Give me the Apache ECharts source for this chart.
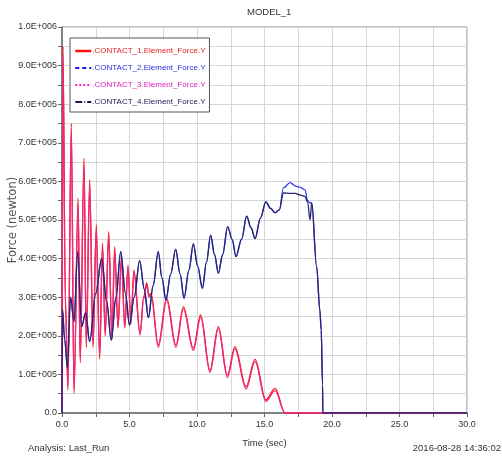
<!DOCTYPE html>
<html>
<head>
<meta charset="utf-8">
<script src="https://cdn.jsdelivr.net/npm/echarts@6/dist/echarts.min.js"></script>
<style>
  html, body { margin: 0; padding: 0; background: #fff; }
  #chart { width: 502px; height: 461px; }
</style>
</head>
<body>
<div id="chart"></div>
<script>
// Contact forces (units of 1E+005 newton) sampled at turning points of the response
const contactATime = [0, 0.07, 0.25, 0.44, 0.69, 0.89, 1.19, 1.35, 1.63, 1.8, 2.05, 2.3, 2.54, 2.79, 3.0, 3.2, 3.46, 3.7, 3.9, 4.15, 4.4, 4.65, 4.89, 5.1, 5.33, 5.78, 6.05, 6.27, 6.45, 6.6, 7.13, 7.75, 8.44, 8.99, 9.73, 10.27, 10.96, 11.58, 12.25, 12.81, 13.63, 14.3, 15.1, 15.78, 16.52, 30];
const contact1Force = [0.2, 9.5, 3.0, 0.6, 7.5, 0.5, 5.57, 1.3, 6.6, 1.7, 6.04, 1.7, 4.87, 1.4, 4.4, 2.0, 4.7, 1.9, 4.31, 2.2, 4.05, 2.2, 3.83, 2.3, 3.7, 2.07, 3.0, 3.37, 3.05, 3.1, 1.76, 2.98, 1.76, 2.75, 1.68, 2.54, 1.11, 2.24, 0.98, 1.72, 0.68, 1.39, 0.34, 0.64, 0, 0];
const contact3Force = [0.1, 9.3, 2.8, 0.7, 7.3, 0.6, 5.4, 1.4, 6.4, 1.8, 5.9, 1.8, 4.75, 1.5, 4.3, 2.05, 4.6, 1.95, 4.2, 2.25, 3.95, 2.25, 3.75, 2.35, 3.62, 2.02, 2.95, 3.3, 3.0, 3.04, 1.7, 2.92, 1.7, 2.69, 1.62, 2.48, 1.05, 2.18, 0.92, 1.66, 0.62, 1.33, 0.3, 0.58, 0, 0];

const contactBTime = [0, 0.03, 0.2, 0.4, 0.63, 0.89, 1.16, 1.46, 1.75, 2.05, 2.5, 2.94, 3.3, 3.65, 4.0, 4.35, 4.7, 5.0, 5.35, 5.75, 6.1, 6.4, 6.75, 7.13, 7.4, 7.7, 8.05, 8.42, 8.75, 9.04, 9.4, 9.73, 10.05, 10.4, 10.7, 11.01, 11.3, 11.58, 11.9, 12.27, 12.6, 12.89, 13.3, 13.68, 14.0, 14.3, 14.7, 15.1, 15.45, 15.78, 16.1, 16.4, 16.9, 17.3, 17.6, 18.0, 18.2, 18.37, 18.5, 18.86, 19.1, 19.2, 19.3, 19.32, 30];
const contact2Force = [0, 2.7, 1.9, 1.17, 3.0, 2.37, 4.18, 2.24, 2.6, 1.85, 3.1, 4.0, 2.9, 1.89, 3.0, 4.18, 3.1, 2.28, 3.0, 3.95, 3.2, 2.47, 3.3, 4.18, 3.5, 2.93, 3.6, 4.24, 3.6, 2.97, 3.7, 4.38, 3.8, 3.23, 3.9, 4.61, 4.1, 3.62, 4.1, 4.83, 4.5, 4.05, 4.5, 5.1, 4.8, 4.52, 5.05, 5.47, 5.3, 5.19, 5.26, 5.83, 5.97, 5.88, 5.85, 5.78, 5.5, 5.44, 5.44, 3.8, 2.67, 2.15, 0.73, 0, 0];
const contact4Force = [0, 2.7, 1.9, 1.17, 3.0, 2.37, 4.18, 2.24, 2.6, 1.85, 3.1, 4.0, 2.9, 1.89, 3.0, 4.18, 3.1, 2.28, 3.0, 3.95, 3.2, 2.47, 3.3, 4.18, 3.5, 2.93, 3.6, 4.24, 3.6, 2.97, 3.7, 4.38, 3.8, 3.23, 3.9, 4.61, 4.1, 3.62, 4.1, 4.83, 4.5, 4.05, 4.5, 5.1, 4.8, 4.52, 5.05, 5.47, 5.3, 5.19, 5.26, 5.7, 5.69, 5.69, 5.65, 5.61, 5.45, 5.0, 5.44, 3.8, 2.67, 2.15, 0.73, 0, 0];

const seriesNames = ['.CONTACT_1.Element_Force.Y', '.CONTACT_2.Element_Force.Y', '.CONTACT_3.Element_Force.Y', '.CONTACT_4.Element_Force.Y'];
const seriesColors = ['#f01818', '#3a3aee', '#f0287a', '#262670'];
const legendColors = ['#ff1010', '#1a1aff', '#ff20c0', '#1a1a5a'];
const legendTextColors = ['#e82020', '#2a2ae0', '#e020c0', '#22225e'];
const legendDash = ['solid', [4, 3], [2, 2], [7, 2, 1, 2]];

const SCALE = 1e5;
const FONT = "'Liberation Sans', Arial, sans-serif";

function pairs(times, values) {
  return times.map((t, i) => [t, values[i] * SCALE]);
}

function sciLabel(v) {
  if (v === 0) return '0.0';
  const exp = Math.floor(Math.log10(v) + 1e-9);
  const mant = v / Math.pow(10, exp);
  return mant.toFixed(1) + 'E+' + String(exp).padStart(3, '0');
}

const seriesData = [
  pairs(contactATime, contact1Force),
  pairs(contactBTime, contact2Force),
  pairs(contactATime, contact3Force),
  pairs(contactBTime, contact4Force)
];

const chart = echarts.init(document.getElementById('chart'), null, { renderer: 'canvas' });

chart.setOption({
  animation: false,
  backgroundColor: '#ffffff',
  textStyle: { fontFamily: FONT },
  grid: {
    left: 62, top: 27, right: 35, bottom: 48,
    containLabel: false, outerBoundsMode: 'none',
    show: true, borderColor: '#8a8a8a', borderWidth: 1, backgroundColor: 'transparent'
  },
  legend: {
    orient: 'vertical',
    left: 70, top: 38,
    backgroundColor: '#ffffff',
    borderColor: '#555555', borderWidth: 1,
    padding: [9, 4, 6, 4],
    itemWidth: 16, itemHeight: 10, itemGap: 9,
    itemStyle: { opacity: 0 },
    textStyle: { fontSize: 8, fontFamily: FONT, padding: [0, 0, 0, -4] },
    data: seriesNames.map((n, i) => ({
      name: n,
      textStyle: { color: legendTextColors[i] },
      lineStyle: { color: legendColors[i], type: legendDash[i], width: i === 0 ? 2.5 : 2 }
    }))
  },
  xAxis: {
    type: 'value', min: 0, max: 30, interval: 5,
    name: 'Time (sec)', nameLocation: 'middle', nameGap: 25, nameMoveOverlap: false,
    nameTextStyle: { fontSize: 9.5, color: '#333' },
    axisLine: { show: true, lineStyle: { color: '#666', width: 1.5 } },
    axisTick: { show: true, inside: false, length: 4, lineStyle: { color: '#666' } },
    minorTick: { show: true, splitNumber: 2, length: 4, lineStyle: { color: '#666' } },
    axisLabel: { fontSize: 9, color: '#333', margin: 7, formatter: v => v.toFixed(1) },
    splitLine: { show: true, lineStyle: { color: '#d6d6d6', width: 1 } },
    minorSplitLine: { show: true, lineStyle: { color: '#d6d6d6', width: 1 } }
  },
  yAxis: {
    type: 'value', min: 0, max: 1e6, interval: 1e5,
    name: 'Force (newton)', nameLocation: 'middle', nameGap: 43, nameMoveOverlap: false,
    nameTextStyle: { fontSize: 11.5, color: '#555', fontFamily: "'DejaVu Sans', sans-serif" },
    axisLine: { show: true, lineStyle: { color: '#666', width: 1.5 } },
    axisTick: { show: true, inside: false, length: 4, lineStyle: { color: '#666' } },
    minorTick: { show: true, splitNumber: 2, length: 4, lineStyle: { color: '#666' } },
    axisLabel: { fontSize: 9, color: '#333', margin: 5, formatter: sciLabel },
    splitLine: { show: true, lineStyle: { color: '#d6d6d6', width: 1 } },
    minorSplitLine: { show: true, lineStyle: { color: '#d6d6d6', width: 1 } }
  },
  graphic: [
    { type: 'text', left: 247, top: 7, style: { text: 'MODEL_1', fontSize: 9.5, fontFamily: FONT, fill: '#333' } },
    { type: 'text', left: 28, top: 443, style: { text: 'Analysis: Last_Run', fontSize: 9.5, fontFamily: FONT, fill: '#333' } },
    { type: 'text', right: 1, top: 443, style: { text: '2016-08-28 14:36:02', fontSize: 9.5, fontFamily: FONT, fill: '#333' } }
  ],
  series: seriesData.map((d, i) => ({
    name: seriesNames[i],
    type: 'line',
    data: d,
    smooth: 0.35,
    smoothMonotone: 'x',
    symbol: 'none',
    color: seriesColors[i],
    lineStyle: { color: seriesColors[i], width: 1.3 },
    z: 2 + i
  }))
});
</script>
</body>
</html>
